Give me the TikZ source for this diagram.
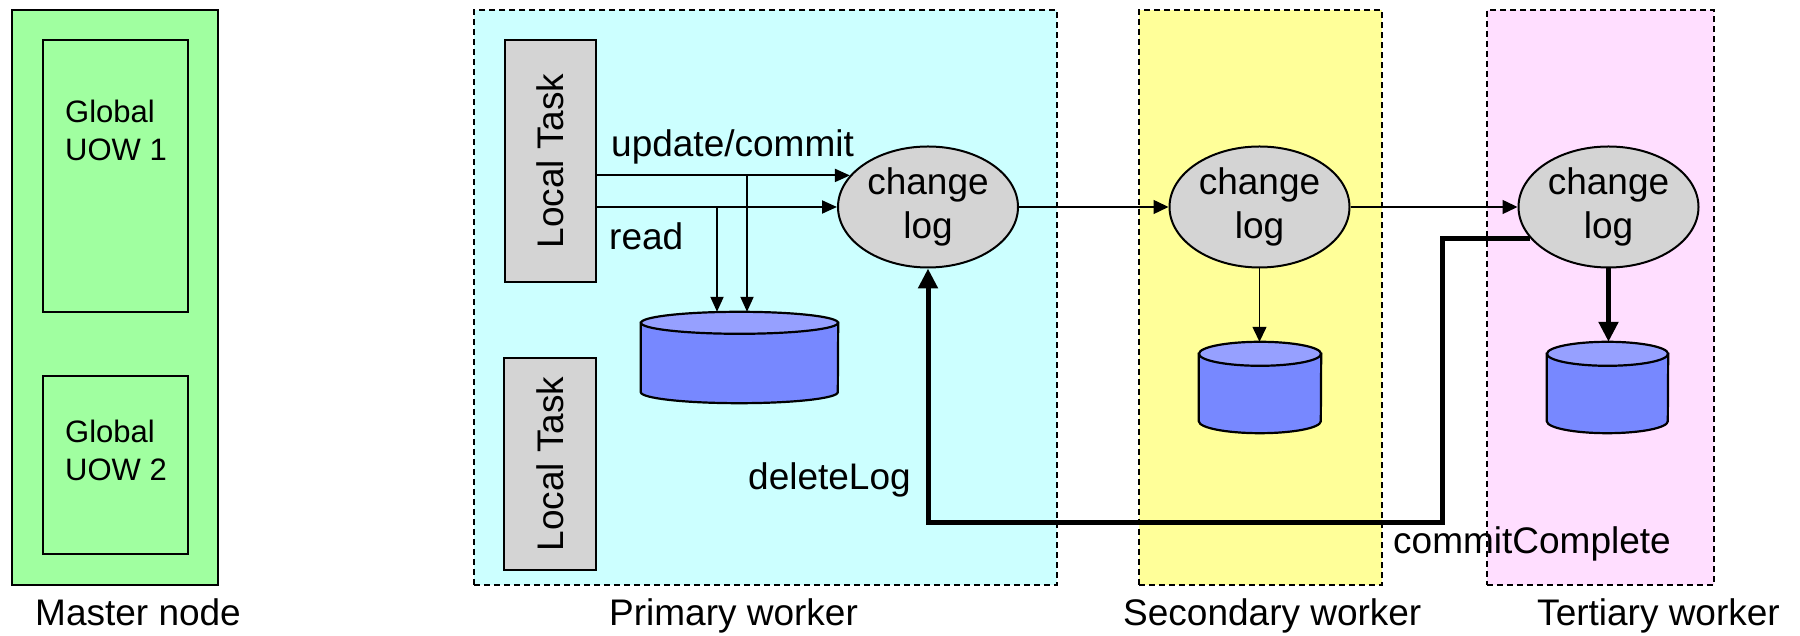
\documentclass[tikz,border=0pt]{standalone}
\usepackage{fontspec}
\setmainfont{Liberation Sans}
\usepackage{graphicx}
\usetikzlibrary{arrows.meta,calc,shapes.geometric}
\definecolor{mastergreen}{RGB}{160,255,160}
\definecolor{primcyan}{RGB}{204,255,255}
\definecolor{secyellow}{RGB}{255,255,153}
\definecolor{terpink}{RGB}{255,222,255}
\definecolor{taskgray}{RGB}{212,212,212}
\definecolor{dbblue}{RGB}{119,136,255}
\definecolor{dbtopblue}{RGB}{150,160,255}
\newcommand\lblfont{\fontsize{37}{44}\selectfont}
\newcommand\uowfont{\fontsize{31}{38}\selectfont}
\newcommand\dbcyl[3]{%
  \path[dbbody] ([yshift=-#3pt]#1.north west) -- ([yshift=#3pt]#1.south west)
    arc[start angle=180,end angle=360,x radius=#2pt,y radius=#3pt]
    -- ([yshift=-#3pt]#1.north east) -- cycle;
  \path[dbtop] ([yshift=-#3pt]#1.north) ellipse[x radius=#2pt,y radius=#3pt];
}
\begin{document}
\begin{tikzpicture}[x=1pt,y=1pt,
  lbl/.style={font=\lblfont, inner sep=0pt},
  uowlbl/.style={font=\uowfont, inner sep=0pt, align=left},
  frame/.style={draw, line width=2pt, fill=mastergreen, inner sep=0pt},
  worker/.style={draw, line width=1.8pt, dash pattern=on 6pt off 4pt, inner sep=0pt, minimum height=575pt},
  task/.style={draw, line width=2pt, fill=taskgray, inner sep=0pt, font=\lblfont},
  clog/.style={ellipse, draw, line width=2pt, fill=taskgray, minimum width=180pt, minimum height=121pt, inner sep=0pt, align=center, font=\lblfont},
  dbnode/.style={inner sep=0pt, minimum height=91pt},
  dbbody/.style={fill=dbblue, draw, line width=2.2pt},
  dbtop/.style={fill=dbtopblue, draw, line width=2.2pt},
  arr/.style={line width=2pt, -{Triangle[length=15pt,width=13pt]}},
  chain/.style={line width=1.4pt, -{Triangle[length=15pt,width=14pt]}},
  heavy/.style={line width=5pt, -{Triangle[length=20pt,width=19pt]}},
]
\useasboundingbox (0,0) rectangle (1800,636);

% master node
\node[frame, minimum width=206pt, minimum height=575pt] (master) at (115,338.5) {};
\node[frame, minimum width=145pt, minimum height=272pt] (uow1) at (115.5,460) {};
\node[frame, minimum width=145pt, minimum height=178pt] (uow2) at (115.5,171) {};
\node[uowlbl, anchor=base west] (uow1t) at (65,475) {Global\\UOW 1};
\node[uowlbl, anchor=base west] (uow2t) at (65,155) {Global\\UOW 2};

% workers
\node[worker, fill=primcyan, minimum width=583pt] (primary) at (765.5,338.5) {};
\node[worker, fill=secyellow, minimum width=243pt] (secondary) at (1260.5,338.5) {};
\node[worker, fill=terpink, minimum width=227pt] (tertiary) at (1600.5,338.5) {};

% local tasks
\node[task, minimum width=91pt, minimum height=242pt] (lt1) at (550.5,475) {\rotatebox{90}{Local Task}};
\node[task, minimum width=92pt, minimum height=212pt] (lt2) at (550,172) {\rotatebox{90}{Local Task}};

% change logs
\node[clog] (cl1) at (928,429) {change\\log};
\node[clog] (cl2) at (1259.5,429) {change\\log};
\node[clog] (cl3) at (1608.5,429) {change\\log};

% databases
\node[dbnode, minimum width=197pt] (db1) at (739.5,278.5) {};
\node[dbnode, minimum width=122pt] (db2) at (1260,248.5) {};
\node[dbnode, minimum width=121pt] (db3) at (1607.5,248.5) {};
\dbcyl{db1}{98.5}{11}
\dbcyl{db2}{61}{12}
\dbcyl{db3}{60.5}{12}

% connectors in primary worker
\coordinate (br1) at (717,429);
\coordinate (br2) at (747,460);
\draw[arr] (lt1.east |- cl1.158) -- (cl1.158);
\draw[arr] (lt1.east |- cl1.west) -- (cl1.west);
\draw[arr] (br1) -- (br1 |- db1.north);
\draw[arr] (br2) -- (br2 |- db1.north);

% chain
\draw[chain] (cl1) -- (cl2);
\draw[chain] (cl2) -- (cl3);
\draw[chain] (cl2.south) -- (cl2.south |- db2.north);
\draw[heavy] (cl3.south) -- (cl3.south |- db3.north);

% commitComplete / deleteLog
\coordinate (cc) at (1442,113);
\draw[heavy] (cl3.202) -| (cc) -| (cl1.south);

% labels
\node[lbl, anchor=base west] (lupd) at (611,479) {update/commit};
\node[lbl, anchor=base west] (lread) at (609,386) {read};
\node[lbl, anchor=base west] (ldel) at (748,146) {deleteLog};
\node[lbl, anchor=base west] (lcc) at (1393,82) {commitComplete};
\node[lbl, anchor=base west] (lmaster) at (35,10) {Master node};
\node[lbl, anchor=base west] (lprim) at (609,10) {Primary worker};
\node[lbl, anchor=base west] (lsec) at (1123,10) {Secondary worker};
\node[lbl, anchor=base west] (lter) at (1537,10) {Tertiary worker};
\end{tikzpicture}
\end{document}
